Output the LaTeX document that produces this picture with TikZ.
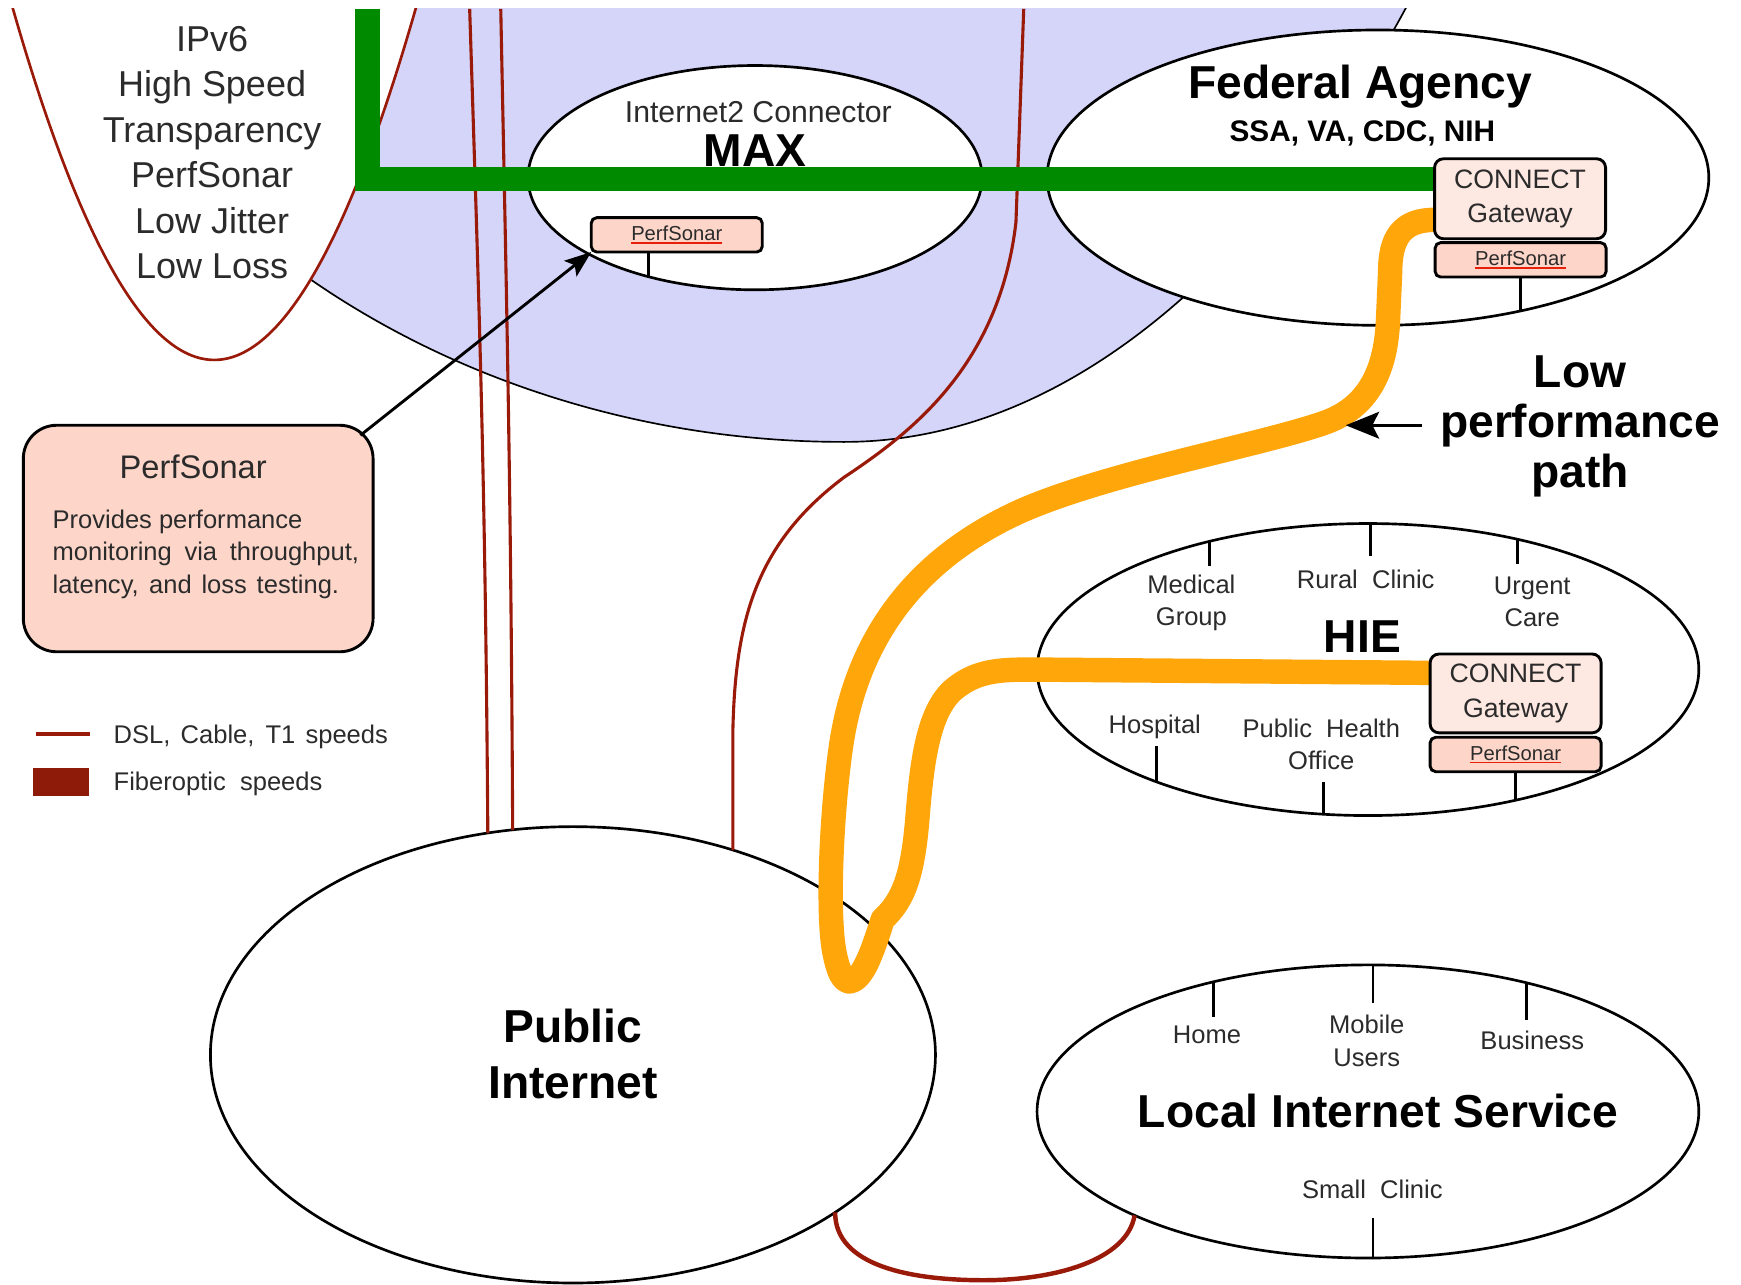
\documentclass[tikz,border=0pt]{standalone}
\usepackage{fontspec}
\setmainfont{Liberation Sans}
\usetikzlibrary{shapes.geometric,arrows.meta,calc}
\definecolor{lav}{HTML}{D5D5FA}
\definecolor{dred}{HTML}{9A1A0A}
\definecolor{legred}{HTML}{8E1A0A}
\definecolor{grn}{HTML}{008A00}
\definecolor{org}{HTML}{FFA60A}
\definecolor{salmon}{HTML}{FDD6C9}
\definecolor{gwfill}{HTML}{FEE8E2}
\definecolor{txt}{HTML}{2B2B2B}
\definecolor{ulred}{HTML}{E8200A}
\newcommand{\fs}[2]{\fontsize{#1}{#2}\selectfont}
\newcommand{\redul}[1]{\setbox0=\hbox{#1}\rlap{\color{ulred}\rule[-1.4pt]{\wd0}{0.7pt}}\box0}
\pgfdeclarelayer{back}
\pgfdeclarelayer{ell}
\pgfdeclarelayer{lines}
\pgfsetlayers{back,ell,lines,main}
\begin{document}
\begin{tikzpicture}[x=0.5pt,y=-0.5pt,
  ell/.style={ellipse, draw=black, line width=1.2pt, fill=white, inner sep=0pt, outer sep=0pt},
  gwbox/.style={rectangle, rounded corners=4pt, draw=black, line width=1.3pt, fill=gwfill, inner sep=0pt, outer sep=0pt, text=txt, align=center, font=\fs{12}{15.5}, minimum width=77pt},
  psbox/.style={rectangle, rounded corners=2.5pt, draw=black, line width=1.3pt, fill=salmon, inner sep=0pt, outer sep=0pt, text=txt, font=\fs{9.1}{10}, minimum width=77pt, minimum height=15.5pt},
  lbl/.style={text=txt, font=\fs{11.5}{14.5}, align=center, inner sep=0pt},
  ttl/.style={text=black, font=\bfseries\fs{20.8}{24}, align=center, inner sep=0pt},
  dsl/.style={draw=dred, line width=1.4pt},
  tk/.style={draw=black, line width=1.2pt}]
\useasboundingbox (0,0) rectangle (1568,1157);

% background: lavender region and IPv6 shape
\begin{pgfonlayer}{back}
\begin{scope}
\clip (0,8) rectangle (1568,1157);
\fill[lav] (1270,0) .. controls (1180,170) and (1000,398) .. (760,398) .. controls (560,398) and (380,330) .. (250,230) -- (150,0) -- cycle;
\draw[black, line width=0.75pt] (1270,0) .. controls (1180,170) and (1000,398) .. (760,398) .. controls (560,398) and (380,330) .. (250,230);
\fill[white] (9.4,0) .. controls (131.8,432.2) and (254.2,432.2) .. (376.6,0) -- cycle;
\draw[dred, line width=1.2pt] (9.4,0) .. controls (131.8,432.2) and (254.2,432.2) .. (376.6,0);
\end{scope}
\end{pgfonlayer}

% ellipses
\begin{pgfonlayer}{ell}
\node[ell, minimum width=204.5pt, minimum height=101pt] (maxell) at (680,160) {};
\node[ell, minimum width=298pt, minimum height=133pt] (fed) at (1241,160) {};
\node[ell, minimum width=298pt, minimum height=131.5pt] (hie) at (1232,603) {};
\node[ell, minimum width=298pt, minimum height=132pt] (loc) at (1232,1001) {};
\node[ell, minimum width=326.5pt, minimum height=205.5pt] (pub) at (516,950) {};
\node[lbl, font=\fs{13.6}{16}, anchor=base] (i2c) at (683,110) {Internet2 Connector};
\node[ttl, anchor=base] (maxt) at (680,150) {MAX};
\end{pgfonlayer}

% boxes
\node[psbox] (maxps) at (609.5,211.5) {\redul{PerfSonar}};
\node[gwbox, minimum height=36pt] (fedgw) at (1369,179) {CONNECT\\Gateway};
\node[psbox] (fedps) at (1369.5,234) {\redul{PerfSonar}};
\node[gwbox, minimum height=35.5pt] (hiegw) at (1365,624.5) {CONNECT\\Gateway};
\node[psbox] (hieps) at (1365,679.5) {\redul{PerfSonar}};

% texts
\node[anchor=north, inner sep=0pt, align=center, text=txt, font=\fs{16.2}{20.5}] (ipv6t) at (191,23) {IPv6\\High Speed\\Transparency\\PerfSonar\\Low Jitter\\Low Loss};
\node[ttl, anchor=base] (fedt) at (1225,89) {Federal Agency};
\node[ttl, font=\bfseries\fs{13.4}{16}, anchor=base] (fedsub) at (1227,127) {SSA, VA, CDC, NIH};
\node[ttl, anchor=base] (hiet) at (1227,588) {HIE};
\node[lbl, anchor=north] (medg) at (1073,517) {Medical\\Group};
\node[lbl, anchor=base] (rural) at (1230,530) {Rural~~Clinic};
\node[lbl, anchor=north] (urg) at (1380,519) {Urgent\\Care};
\node[lbl, anchor=base] (hosp) at (1040,661) {Hospital};
\node[lbl, anchor=north] (phe) at (1190,647) {Public~~Health\\Office};
\node[ttl, anchor=base] (loct) at (1241,1015) {Local Internet Service};
\node[lbl, anchor=base] (home) at (1087,940) {Home};
\node[lbl, anchor=north] (mob) at (1231,914) {Mobile\\Users};
\node[lbl, anchor=base] (bus) at (1380,945) {Business};
\node[lbl, anchor=base] (smc) at (1236,1079) {Small~~Clinic};
\node[ttl, anchor=north, font=\bfseries\fs{20.8}{25.5}] (pubt) at (516,908) {Public\\Internet};
\node[ttl, anchor=north, font=\bfseries\fs{20.8}{22.5}] (lowlbl) at (1423,320) {Low\\performance\\path};

% callout
\node[draw=black, line width=1.3pt, fill=salmon, rounded corners=15pt, minimum width=157.5pt, minimum height=102pt, inner sep=0pt, outer sep=0pt] (callout) at (178.5,485) {};
\node[lbl, font=\fs{14.7}{17}, anchor=base] (callt) at (174,431) {PerfSonar};
\node[lbl, anchor=north west, align=left, font=\fs{11.5}{14.5}] (callb) at (47,459) {Provides performance\\\makebox[138pt][s]{monitoring via throughput,}\\\makebox[129pt][s]{latency, and loss testing.}};

% legend
\coordinate (lg1a) at (32,661);
\coordinate (lg1b) at (81,661);
\draw[draw=dred, line width=2pt] (lg1a) -- (lg1b);
\node[fill=legred, minimum width=25pt, minimum height=12.5pt, inner sep=0pt] (lg2) at (55,704.5) {};
\node[lbl, anchor=base west] (lgt1) at (102,670) {\makebox[123.5pt][s]{DSL, Cable, T1 speeds}};
\node[lbl, anchor=base west] (lgt2) at (102,712) {\makebox[94pt][s]{Fiberoptic speeds}};

% ticks
\draw[tk] (hie.141.4) -- ++(0,22);
\draw[tk] (hie.89.1) -- ++(0,29);
\draw[tk] (hie.41.8) -- ++(0,22);
\draw[tk] (hie.-152.2) -- ++(0,-32);
\draw[tk] (hie.-107.1) -- ++(0,-29);
\draw[tk] (hieps.south) -- (hieps.south |- hie.-41.8);
\draw[tk] (fedps.south) -- (fedps.south |- fed.-43);
\draw[tk] (maxell.-137.9) -- (maxell.-137.9 |- maxps.south);
\draw[tk] (loc.140) -- ++(0,32);
\draw[tk] (loc.88.8) -- ++(0,34);
\draw[tk] (loc.39.2) -- ++(0,33);
\draw[tk] (loc.-88.8) -- ++(0,-36);

% arrows
\coordinate (lpa) at (1212,383);
\draw[line width=1.5pt, shorten <=8pt, -{Stealth[length=15pt,width=12pt,inset=3pt]}] (lpa -| lowlbl.west) -- (lpa);
\draw[line width=1.3pt, -{Stealth[length=12pt,width=9pt,inset=2.5pt]}] ($(callout.north east)!-7.3pt!(maxps.south west)$) -- (maxps.south west);

% connections
\begin{pgfonlayer}{lines}
\coordinate (ra) at (423,8);
\coordinate (rb) at (451,8);
\coordinate (rc) at (922,8);
\draw[dsl] (ra) .. controls (431,260) and (437,420) .. (pub.111.6);
\draw[dsl] (rb) .. controls (456,260) and (460,420) .. (pub.105.5);
\draw[dsl] (rc) -- (915,200) .. controls (900,330) and (820,390) .. (760,430) .. controls (680,490) and (662,560) .. (660,660) -- (pub.52);
\draw[draw=dred, line width=2pt] (pub.-31.9) .. controls (752,1140) and (820,1153) .. (886,1153) .. controls (950,1153) and (1015,1135) .. (loc.-156.2);
\coordinate (gtop) at (331,8);
\draw[draw=grn, line width=11pt, line join=miter] (gtop) |- ($(fedgw.north west)+(0,18)$);
\draw[draw=org, line width=11pt, line cap=round, line join=round] ($(fedgw.north west)+(0,55)$) .. controls (1262,198) and (1252,215) .. (1252,245) -- (1250,290) .. controls (1248,330) and (1235,365) .. (1195,380) .. controls (1140,400) and (1000,425) .. (920,460) .. controls (820,505) and (770,580) .. (757,675) .. controls (748,740) and (745,830) .. (752,860) .. controls (756,880) and (762,888) .. (770,882) .. controls (780,875) and (788,850) .. (795,828) .. controls (815,810) and (822,785) .. (826,740) .. controls (830,690) and (835,640) .. (860,620) .. controls (880,604) and (900,603) .. (930,603) -- ($(hiegw.north west)+(0,17)$);
\end{pgfonlayer}
\end{tikzpicture}
\end{document}
